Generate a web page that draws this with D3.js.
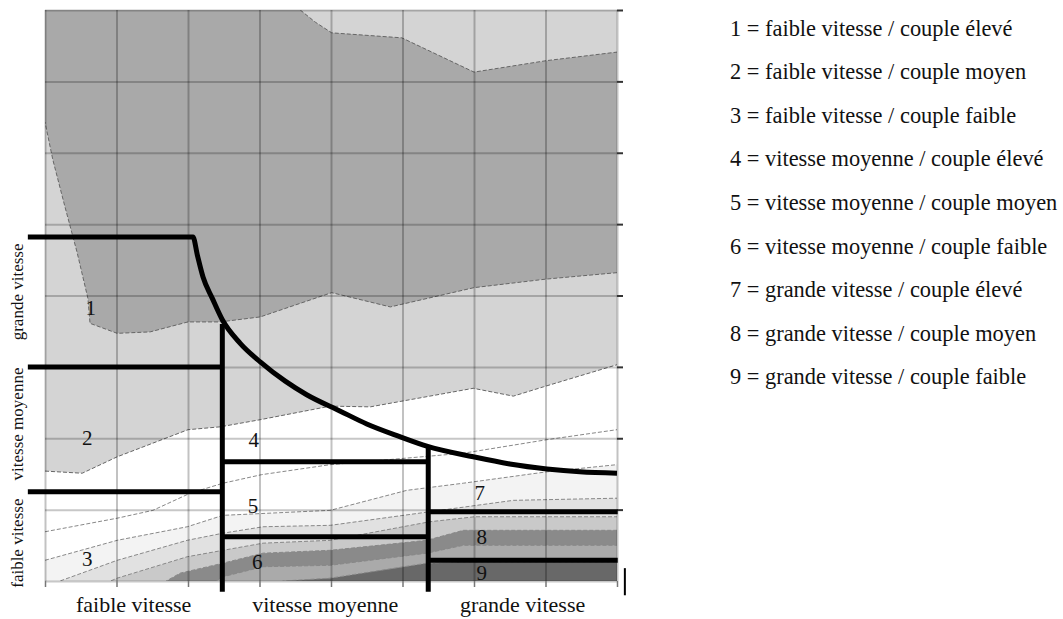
<!DOCTYPE html>
<html><head><meta charset="utf-8">
<script src="https://cdn.jsdelivr.net/npm/d3@7"></script>
<style>
body{margin:0;background:#fff;}
text{font-family:"Liberation Serif","DejaVu Serif",serif;fill:#111;}
</style>
</head><body>
<svg id="c" width="1063" height="619"></svg>
<script>
// ---- data (speed on x, torque on y, both in grid units 0..8) ----
const gridTicks = [0,1,2,3,4,5,6,7,8];
const rightTicks = [1,2,3,4,5,6,7,8];

// high-torque (dark) zone: top edge, bottom edge, left edge
const zoneTop = [[3.57,8],[3.78,7.83],[4.01,7.68],[4.99,7.61],[6.0,7.13],[7.01,7.29],[8,7.41]];
const zoneBottom = [[8,4.32],[7.01,4.23],[6.0,4.11],[4.83,3.84],[4.01,4.04],[3.01,3.70],[2.45,3.63],[2.0,3.63],[1.47,3.49],[1.01,3.47],[0.63,3.61]];
const zoneLeft = [[0.60,3.96],[0.45,4.60],[0.28,5.24],[0.11,5.90],[0,6.43]];

// lower contour lines (each filled below)
const contourW = [[0,1.54],[0.52,1.51],[1.01,1.74],[2.0,2.12],[2.45,2.16],[3.01,2.26],[3.99,2.45],[4.55,2.44],[5.99,2.70],[6.55,2.59],[6.97,2.72],[8,3.03]];
const contourA = [[0,0.69],[1.01,0.88],[1.51,0.99],[2.03,1.23],[2.49,1.37],[3.03,1.49],[3.99,1.63],[5.85,1.79],[7.02,1.98],[8,2.12]];
const contourB = [[0,0.29],[1.01,0.57],[1.99,0.76],[2.49,0.92],[3.99,0.99],[5.06,1.27],[5.85,1.37],[7.02,1.53],[8,1.63]];
const contourC = [[0,-0.13],[0.21,0],[1.01,0.29],[1.99,0.57],[2.49,0.67],[3.05,0.76],[3.99,0.78],[5.38,0.97],[6.55,1.13],[8,1.16]];
const contourD = [[0,-0.4],[1.01,0.04],[1.99,0.34],[2.49,0.43],[3.05,0.53],[3.99,0.57],[5.38,0.83],[6.01,0.90],[8,0.90]];
const contourE = [[0,-1],[1.47,-0.13],[1.89,0.11],[2.49,0.25],[3.05,0.39],[3.99,0.43],[5.34,0.57],[5.85,0.71],[8,0.71]];
const contourF = [[0,-1],[2.17,-0.13],[2.49,0.06],[3.05,0.20],[3.99,0.22],[5.34,0.39],[5.85,0.50],[8,0.50]];
const contourG = [[0,-1],[3.01,-0.13],[3.33,0],[3.99,0.04],[5.34,0.25],[5.85,0.27],[8,0.27]];
const bandContours = [contourW, contourA, contourB, contourC, contourD, contourE, contourF, contourG];
const bandColors = ["#ffffff","#ffffff","#f3f3f3","#e1e1e1","#c9c9c9","#8a8a8a","#aaaaaa","#686868"];

// constant-power curve and zone dividers
const powerCurve = [[-0.24,4.82],[2.07,4.82],[2.13,4.57],[2.21,4.26],[2.34,3.96],[2.48,3.66],[2.73,3.33],[3.01,3.07],[3.36,2.80],[3.66,2.61],[4.13,2.38],[4.50,2.20],[4.97,2.02],[5.34,1.89],[5.99,1.74],[6.50,1.64],[7.02,1.57],[7.48,1.53],[8,1.51]];
const speedBreaks = [2.48, 5.36];
const speedBreakTops = [3.60, 1.88];
const lowColumnBreaks = [3.0, 1.25];
const midColumnBreaks = [1.67, 0.62];
const highColumnBreaks = [0.97, 0.29];

const regionLabels = ["1","2","3","4","5","6","7","8","9"];
const regionLabelX = [0.64,0.59,0.59,2.92,2.91,2.97,6.08,6.11,6.11];
const regionLabelY = [3.82,2.0,0.31,1.98,1.05,0.27,1.23,0.62,0.11];

const speedLabels = ["faible vitesse","vitesse moyenne","grande vitesse"];
const speedEdges = [0, 2.48, 5.36, 8];
const torqueLabels = ["faible vitesse","vitesse moyenne","grande vitesse"];
const torqueLabelPos = [0.53, 2.2, 4.05];

const legendItems = [
  "1 = faible vitesse / couple élevé",
  "2 = faible vitesse / couple moyen",
  "3 = faible vitesse / couple faible",
  "4 = vitesse moyenne / couple élevé",
  "5 = vitesse moyenne / couple moyen",
  "6 = vitesse moyenne / couple faible",
  "7 = grande vitesse / couple élevé",
  "8 = grande vitesse / couple moyen",
  "9 = grande vitesse / couple faible"
];

// ---- drawing ----
const svg = d3.select("#c");
const L = 45, R = 617, T = 10, B = 581;
const x = d3.scaleLinear().domain([0,8]).range([L,R]);
const y = d3.scaleLinear().domain([0,8]).range([B,T]);

svg.append("defs").append("clipPath").attr("id","plot")
  .append("rect").attr("x",L).attr("y",T).attr("width",R-L).attr("height",B-T);

const plot = svg.append("g").attr("clip-path","url(#plot)");
plot.append("rect").attr("x",L).attr("y",T).attr("width",R-L).attr("height",B-T).attr("fill","#d4d4d4");

const line = d3.line().x(d=>x(d[0])).y(d=>y(d[1]));
const zonePoly = [[0,8.2],[3.57,8.2]].concat(zoneTop).concat([[8.2,7.41],[8.2,4.32]]).concat(zoneBottom).concat(zoneLeft).concat([[-0.2,6.43]]);
plot.append("path").attr("d", line(zonePoly)+"Z").attr("fill","#a9a9a9");

const areaBelow = d3.area().x(d=>x(d[0])).y0(y(-1.5)).y1(d=>y(d[1]));
bandContours.forEach((c,i)=>{
  plot.append("path").attr("d", areaBelow(c)).attr("fill", bandColors[i]);
});

// dashed contour edges
const edges = [zoneTop, zoneBottom.concat(zoneLeft)].concat(bandContours);
edges.forEach((c,i)=>{
  plot.append("path").attr("d", line(c)).attr("fill","none")
    .attr("stroke", i<3 ? "#666" : "#888").attr("stroke-width",1)
    .attr("stroke-dasharray","4,2");
});

// gridlines
const grid = svg.append("g");
grid.append("g").attr("transform",`translate(0,${B})`)
  .call(d3.axisBottom(x).tickValues(gridTicks).tickSize(-(B-T)).tickFormat(""))
  .call(g=>g.select(".domain").remove())
  .selectAll("line").attr("stroke","#000").attr("stroke-opacity",0.24).attr("stroke-width",2);
grid.append("g").attr("transform",`translate(${L},0)`)
  .call(d3.axisLeft(y).tickValues(gridTicks).tickSize(-(R-L)).tickFormat(""))
  .call(g=>g.select(".domain").remove())
  .selectAll("line").attr("stroke","#000").attr("stroke-opacity",0.22).attr("stroke-width",2);

// axis ticks
svg.append("g").attr("transform",`translate(${R},0)`)
  .call(d3.axisRight(y).tickValues(rightTicks).tickSize(6).tickFormat(""))
  .call(g=>g.select(".domain").remove())
  .selectAll("line").attr("stroke","#333").attr("stroke-width",2);
svg.append("g").attr("transform",`translate(0,${B})`)
  .call(d3.axisBottom(x).tickValues(gridTicks).tickSize(6).tickFormat(""))
  .call(g=>g.select(".domain").remove())
  .selectAll("line").attr("stroke","#777").attr("stroke-width",1.5);

// black zone lines
const blk = svg.append("g").attr("stroke","#000").attr("stroke-width",5).attr("fill","none");
blk.append("path").attr("d", d3.line().x(d=>x(d[0])).y(d=>y(d[1])).curve(d3.curveMonotoneX)(powerCurve));
speedBreaks.forEach((s,i)=>{
  blk.append("line").attr("x1",x(s)).attr("x2",x(s)).attr("y1",y(-0.15)).attr("y2",y(speedBreakTops[i]));
});
lowColumnBreaks.forEach(v=>blk.append("line").attr("x1",x(-0.24)).attr("x2",x(speedBreaks[0])).attr("y1",y(v)).attr("y2",y(v)));
midColumnBreaks.forEach(v=>blk.append("line").attr("x1",x(speedBreaks[0])).attr("x2",x(speedBreaks[1])).attr("y1",y(v)).attr("y2",y(v)));
highColumnBreaks.forEach(v=>blk.append("line").attr("x1",x(speedBreaks[1])).attr("x2",x(8.01)).attr("y1",y(v)).attr("y2",y(v)));
svg.append("line").attr("x1",x(8.11)).attr("x2",x(8.11)).attr("y1",y(0.18)).attr("y2",y(-0.2))
  .attr("stroke","#000").attr("stroke-width",2);

// region numbers
svg.append("g").selectAll("text").data(regionLabels).join("text")
  .attr("x",(d,i)=>x(regionLabelX[i])).attr("y",(d,i)=>y(regionLabelY[i])+7)
  .attr("text-anchor","middle").attr("font-size",21).text(d=>d);

// speed labels (bottom)
svg.append("g").selectAll("text").data(speedLabels).join("text")
  .attr("x",(d,i)=>x((speedEdges[i]+speedEdges[i+1])/2)).attr("y",612)
  .attr("text-anchor","middle").attr("font-size",22).text(d=>d);

// torque labels (left, rotated)
svg.append("g").selectAll("text").data(torqueLabels).join("text")
  .attr("transform",(d,i)=>`translate(23,${y(torqueLabelPos[i])}) rotate(-90)`)
  .attr("text-anchor","middle").attr("font-size",17).text(d=>d);

// legend
svg.append("g").selectAll("text").data(legendItems).join("text")
  .attr("x",730).attr("y",(d,i)=>28+i*43.6+7.5)
  .attr("font-size",22.4).text(d=>d);
</script>
</body></html>
